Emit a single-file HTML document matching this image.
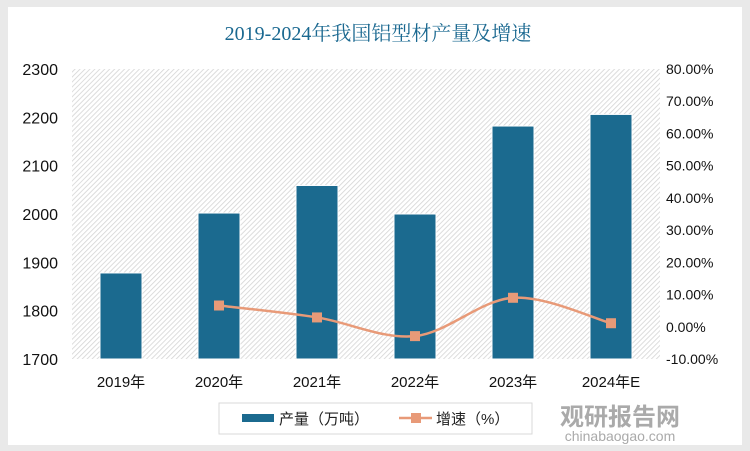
<!DOCTYPE html>
<html><head><meta charset="utf-8"><style>
body{margin:0;background:#e6e6e6;}
#wrap{position:relative;width:750px;height:451px;background:#e9e9e9;overflow:hidden;font-family:"Liberation Sans","Noto Sans CJK SC",sans-serif;}
#card{position:absolute;left:8px;top:7px;width:734px;height:438px;background:#fff;}
</style></head><body>
<div id="wrap">
<div id="card"></div>
<svg id="svg" width="750" height="451" style="position:absolute;left:0;top:0">
<defs><pattern id="hatch" width="3.5" height="3.5" patternUnits="userSpaceOnUse" patternTransform="rotate(45)"><rect width="3.5" height="3.5" fill="#fff"/><line x1="0" y1="0" x2="0" y2="3.5" stroke="#d4d4d4" stroke-width="1.6"/></pattern></defs>
<text x="378" y="40" text-anchor="middle" font-family="Liberation Serif, Noto Serif CJK SC, serif" font-size="20" fill="#1a6890">2019-2024年我国铝型材产量及增速</text>
<rect x="72" y="69" width="588" height="290" fill="url(#hatch)"/>
<g id="g"></g>
<rect x="219" y="403" width="313" height="31" fill="none" stroke="#d9d9d9"/>
<rect x="242" y="414" width="32" height="8" fill="#1b6a8f"/>
<text x="279" y="424" font-size="15" fill="#222">产量（万吨）</text>
<line x1="399" y1="418" x2="432" y2="418" stroke="#e89a78" stroke-width="2.5"/>
<rect x="411" y="413" width="10" height="10" fill="#e89a78"/>
<text x="436" y="424" font-size="15" fill="#222">增速（%）</text>
<text x="620" y="425" text-anchor="middle" font-size="24" font-weight="bold" fill="#aaa">观研报告网</text>
<text x="620" y="441" text-anchor="middle" font-size="14" fill="#aaa">chinabaogao.com</text>
</svg>
</div>
<script>
const categories=["2019年","2020年","2021年","2022年","2023年","2024年E"];
const production=[1878,2002,2059,2000,2182,2206];
const growth=[null,6.6,2.9,-2.9,9.0,1.1];
const leftTicks=[1700,1800,1900,2000,2100,2200,2300];
const rightTicks=[-10,0,10,20,30,40,50,60,70,80];
const X0=72,W=588,Y0=359,Y1=69;
const yL=v=>Y0-(v-1700)/600*(Y0-Y1);
const yR=v=>Y0-(v+10)/90*(Y0-Y1);
const xC=i=>X0+W/categories.length*(i+0.5);
const g=document.getElementById('g');const NS='http://www.w3.org/2000/svg';
function mk(t,a){const e=document.createElementNS(NS,t);for(const k in a)e.setAttribute(k,a[k]);g.appendChild(e);return e;}
leftTicks.forEach(v=>{const t=mk('text',{x:58,y:yL(v)+6,'text-anchor':'end','font-size':16,fill:'#111'});t.textContent=v;

});
rightTicks.forEach(v=>{const t=mk('text',{x:666,y:yR(v)+5,'font-size':14,fill:'#111'});t.textContent=v.toFixed(2)+'%';

});
categories.forEach((c,i)=>{const t=mk('text',{x:xC(i),y:387,'text-anchor':'middle','font-size':15,fill:'#111'});t.textContent=c;


const b=mk('rect',{x:xC(i)-21,y:yL(production[i]),width:42,height:Y0-yL(production[i]),fill:'#1b6a8f',stroke:'#fff','stroke-width':1});

});
const pts=growth.map((v,i)=>v===null?null:[xC(i),yR(v)]).filter(p=>p);
let d='M'+pts[0].join(',');
for(let i=0;i<pts.length-1;i++){const p0=pts[i-1]||pts[i],p1=pts[i],p2=pts[i+1],p3=pts[i+2]||p2;const t=0.5/3;
d+=` C${p1[0]+(p2[0]-p0[0])*t},${p1[1]+(p2[1]-p0[1])*t} ${p2[0]-(p3[0]-p1[0])*t},${p2[1]-(p3[1]-p1[1])*t} ${p2[0]},${p2[1]}`;}
const l=mk('path',{d:d,fill:'none',stroke:'#e89a78','stroke-width':2.5});


pts.forEach(p=>{const m=mk('rect',{x:p[0]-5,y:p[1]-5,width:10,height:10,fill:'#e89a78'});

});
</script>
</body></html>
